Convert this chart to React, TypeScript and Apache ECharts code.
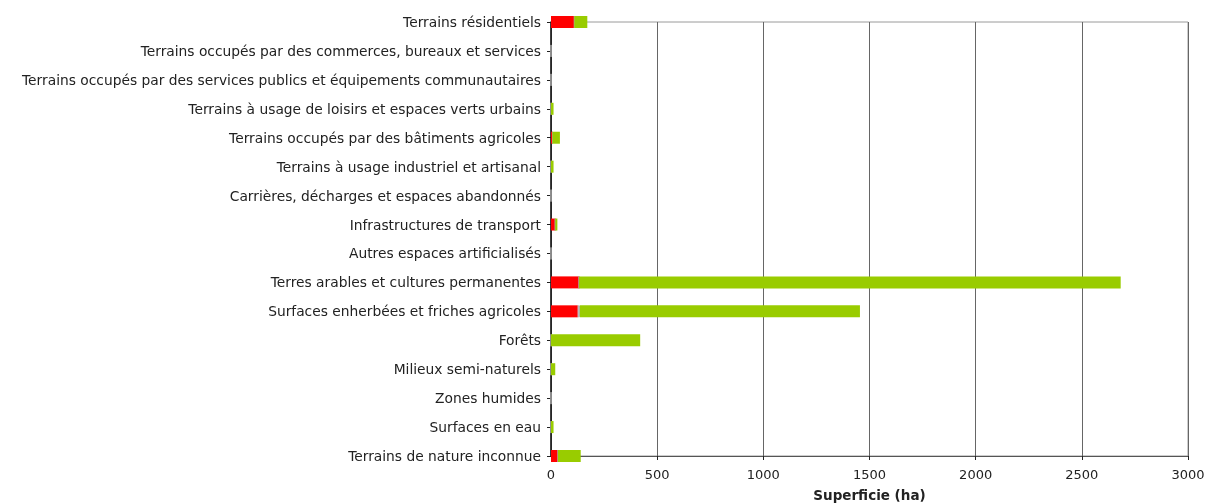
import React, { useEffect, useRef } from "react";
import * as echarts from "echarts";

const categories = [
  "Terrains résidentiels",
  "Terrains occupés par des commerces, bureaux et services",
  "Terrains occupés par des services publics et équipements communautaires",
  "Terrains à usage de loisirs et espaces verts urbains",
  "Terrains occupés par des bâtiments agricoles",
  "Terrains à usage industriel et artisanal",
  "Carrières, décharges et espaces abandonnés",
  "Infrastructures de transport",
  "Autres espaces artificialisés",
  "Terres arables et cultures permanentes",
  "Surfaces enherbées et friches agricoles",
  "Forêts",
  "Milieux semi-naturels",
  "Zones humides",
  "Surfaces en eau",
  "Terrains de nature inconnue",
];

const redValues = [110, 0, 0, 0, 7, 0, 0, 20, 0, 132, 126, 0, 0, 0, 0, 33];
const whiteValues = [0, 0, 0, 0, 0, 0, 0, 0, 0, 0, 10, 0, 0, 0, 0, 0];
const greenValues = [61, 0, 0, 12, 35, 12, 0, 10, 0, 2551, 1319, 420, 20, 0, 12, 107];

const xTicks = { min: 0, max: 3000, interval: 500 };

export default function App() {
  const ref = useRef<HTMLDivElement>(null);
  useEffect(() => {
    if (!ref.current) return;
    const chart = echarts.init(ref.current, undefined, { renderer: "svg" });
    const font = "DejaVu Sans, Verdana, sans-serif";
    chart.setOption({
      animation: false,
      grid: {
        left: 551,
        right: 19,
        top: 22,
        bottom: 47,
        outerBoundsMode: "none",
        containLabel: false,
        show: true,
        borderColor: "#9a9a9a",
        borderWidth: 1,
        backgroundColor: "transparent",
      },
      xAxis: {
        type: "value",
        min: xTicks.min,
        max: xTicks.max,
        interval: xTicks.interval,
        name: "Superficie (ha)",
        nameLocation: "middle",
        nameGap: 32,
        nameTextStyle: { fontFamily: font, fontSize: 13.5, fontWeight: "bold", color: "#222" },
        axisLine: { show: true, lineStyle: { color: "#555", width: 1 } },
        axisTick: { show: true, length: 4, lineStyle: { color: "#222" } },
        axisLabel: {
          fontFamily: font,
          fontSize: 13,
          color: "#222",
          margin: 12,
          formatter: (v: number) => String(v),
        },
        splitLine: { show: true, lineStyle: { color: "#666", width: 1 } },
      },
      yAxis: {
        type: "category",
        data: categories,
        inverse: true,
        boundaryGap: false,
        axisLine: { show: true, onZero: false, lineStyle: { color: "#111", width: 1.5 } },
        axisTick: { show: true, length: 4, alignWithLabel: true, lineStyle: { color: "#222" } },
        axisLabel: { fontFamily: font, fontSize: 13.8, color: "#222", margin: 10, interval: 0 },
        splitLine: { show: false },
      },
      series: [
        {
          type: "bar",
          stack: "s",
          data: redValues,
          barWidth: 12,
          itemStyle: { color: "#ff0000" },
        },
        {
          type: "bar",
          stack: "s",
          data: whiteValues,
          barWidth: 12,
          itemStyle: { color: "#ffffff", borderColor: "#aaaaaa", borderWidth: 1 },
        },
        {
          type: "bar",
          stack: "s",
          data: greenValues,
          barWidth: 12,
          itemStyle: { color: "#99cc00" },
        },
      ],
    });
    return () => chart.dispose();
  }, []);
  return (
    <div
      ref={ref}
      style={{ position: "fixed", left: 0, top: 0, width: 1207, height: 503 }}
    />
  );
}
